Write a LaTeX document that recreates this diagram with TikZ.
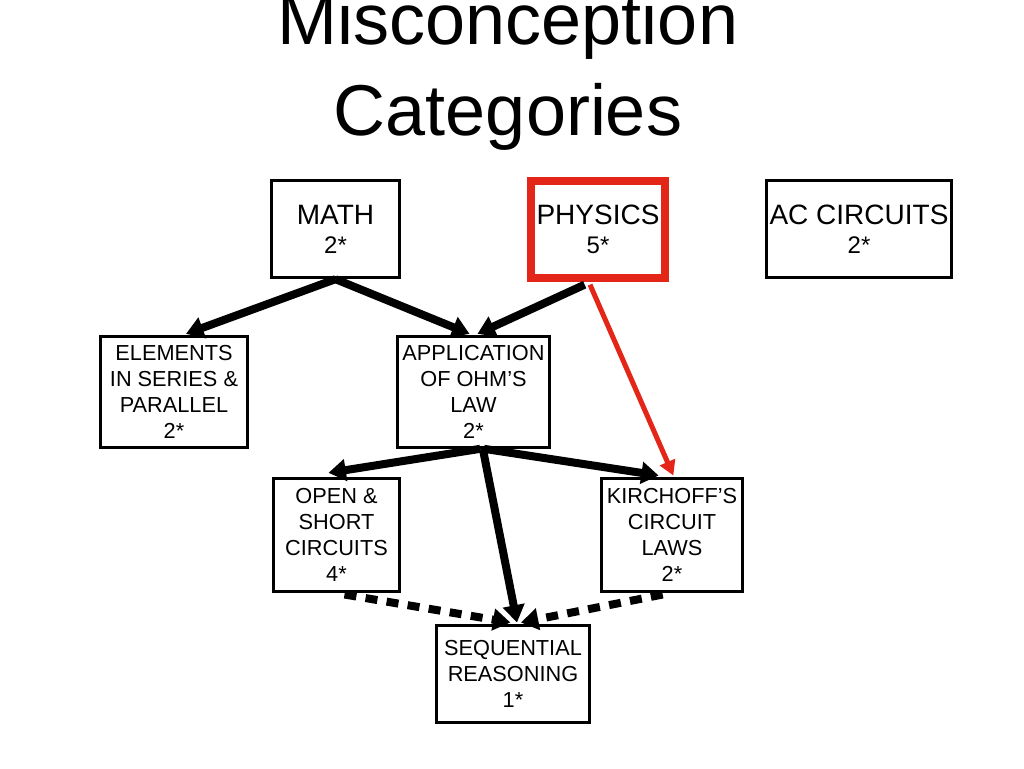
\documentclass[tikz,border=0pt]{standalone}
\usepackage{fontspec}
\setmainfont{Liberation Sans}
\usetikzlibrary{positioning,arrows.meta}
\definecolor{physred}{RGB}{228,38,24}

\begin{document}
\begin{tikzpicture}[x=0.75pt,y=-0.75pt,
  title/.style={anchor=base,inner sep=0pt,font=\fontsize{54}{68}\selectfont},
  top/.style={draw,line width=2.25pt,align=center,inner sep=0pt,
    minimum height=73pt,font=\fontsize{21}{18.75}\selectfont},
  cat/.style={draw,line width=2.25pt,align=center,inner sep=0pt,
    font=\fontsize{16.3}{19.5}\selectfont},
  link/.style={line width=6pt,-{Triangle[length=13pt,width=16pt]}},
  hint/.style={link,dash pattern=on 9pt off 7pt},
  redlink/.style={physred,line width=3.75pt,-{Triangle[length=11pt,width=12pt]}}]
\useasboundingbox (0,0) rectangle (1024,768);

\node[title] (t1) at (508,44) {Misconception};
\node[title] (t2) at (508,135) {Categories};

\node[top,minimum width=96pt] (math) at (335.5,229) {MATH\\[3pt]\fontsize{18}{18.75}\selectfont 2*};
\node[top,draw=physred,line width=6pt,minimum width=100.5pt,minimum height=72.75pt] (phys) at (598,229.5) {PHYSICS\\[3pt]\fontsize{18}{18.75}\selectfont 5*};
\node[top,minimum width=138.75pt] (ac) at (859,229) {AC CIRCUITS\\[3pt]\fontsize{18}{18.75}\selectfont 2*};

\node[cat,minimum width=110pt,minimum height=83pt] (elem) at (174,392) {ELEMENTS\\IN SERIES \&\\PARALLEL\\2*};
\node[cat,minimum width=114pt,minimum height=83pt] (ohm) at (473.5,392) {APPLICATION\\OF OHM'S\\LAW\\2*};
\node[cat,minimum width=94.5pt,minimum height=85pt] (open) at (336.5,535) {OPEN \&\\SHORT\\CIRCUITS\\4*};
\node[cat,minimum width=105.75pt,minimum height=85pt] (kirch) at (672,535) {KIRCHOFF'S\\CIRCUIT\\LAWS\\2*};
\node[cat,minimum width=114.75pt,minimum height=73pt] (seq) at (513,674) {SEQUENTIAL\\REASONING\\1*};

\draw[link] (math.south) -- ([xshift=9pt,yshift=1pt]elem.north);
\draw[link] (math.south) -- ([xshift=-3pt,yshift=1pt]ohm.north);
\draw[link] ([xshift=-10pt,yshift=-2pt]phys.south) -- ([xshift=3pt,yshift=1pt]ohm.north);
\draw[redlink] ([xshift=-6pt,yshift=-2pt]phys.south) -- ([xshift=1pt,yshift=1pt]kirch.north);

\draw[link] ([xshift=5pt]ohm.south) -- ([xshift=-6pt,yshift=3pt]open.north);
\draw[link] ([xshift=8pt]ohm.south) -- ([xshift=-10pt,yshift=1pt]kirch.north);
\draw[link] ([xshift=7pt]ohm.south) -- ([xshift=3pt,yshift=1pt]seq.north);

\draw[hint] ([xshift=6pt,yshift=-1pt]open.south) -- ([xshift=-2pt,yshift=1pt]seq.north);
\draw[hint] ([xshift=-7pt,yshift=-1pt]kirch.south) -- ([xshift=6pt,yshift=1pt]seq.north);
\end{tikzpicture}
\end{document}
